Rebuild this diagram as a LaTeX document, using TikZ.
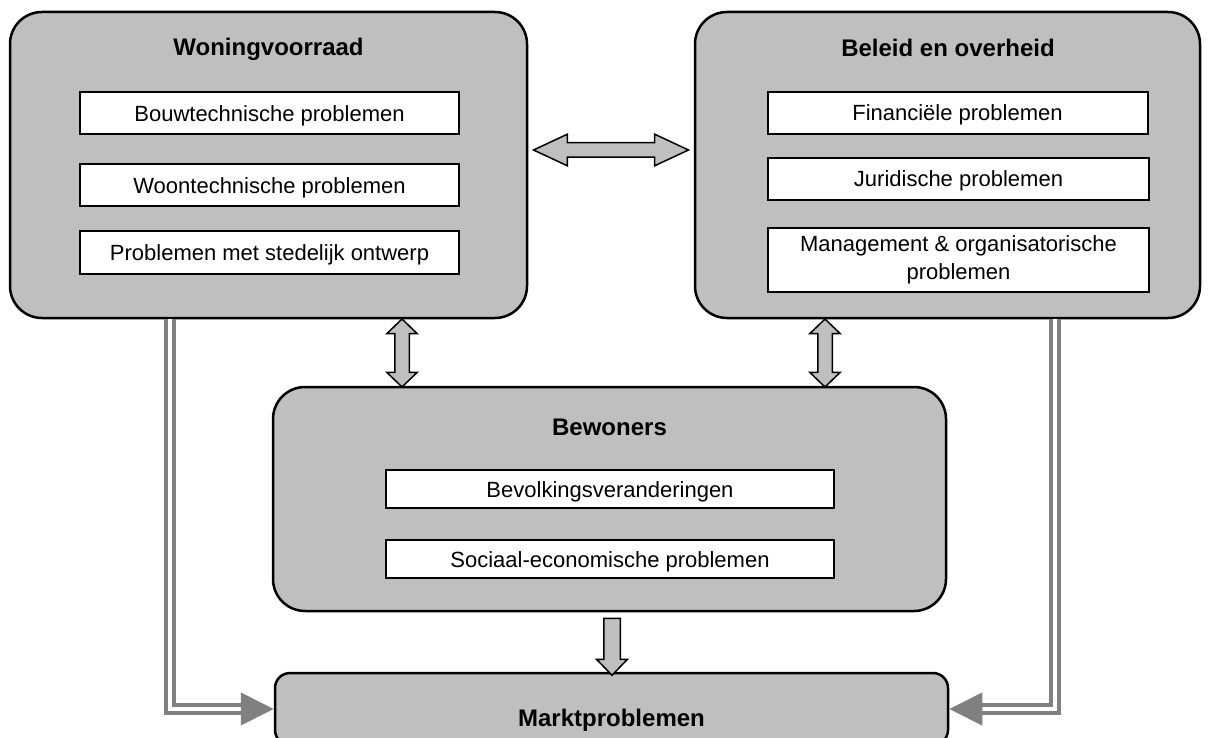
\documentclass[tikz,border=0pt]{standalone}
\usepackage{fontspec}
\setmainfont{Liberation Sans}
\usetikzlibrary{arrows.meta,positioning,calc,shapes.arrows}

\begin{document}
\begin{tikzpicture}[
  x=1pt,y=-1pt,
  panel/.style={draw=black, line width=2.5pt, rounded corners=32pt, fill=gray!50},
  item/.style={draw=black, line width=2pt, fill=white, inner sep=0pt, align=center, font=\fontsize{22}{28}\selectfont},
  line1/.style={item, text height=16pt, text depth=0pt},
  lab/.style={font=\fontsize{24}{28}\selectfont\bfseries},
  fat/.style={draw=black, line width=1.5pt, fill=gray!50, inner sep=6.5pt},
  dline/.style={draw=gray, line width=4pt, double=white, double distance=4pt},
  dhead/.style={draw=gray, line width=4pt, -{Triangle[length=33pt,width=32pt]}}
]
  \useasboundingbox (0,0) rectangle (1210,738);

  \node[panel, minimum width=517pt, minimum height=306pt] (wv) at (268.5,165) {};
  \node[panel, minimum width=505pt, minimum height=306pt] (bo) at (947.5,165) {};
  \node[panel, minimum width=673pt, minimum height=224pt] (bw) at (609.5,499) {};
  \node[panel, rounded corners=15pt, minimum width=673pt, minimum height=72pt] (mp) at (611.5,709) {};
  \node[lab] at (268.5,49) {Woningvoorraad};
  \node[lab] at (948,48) {Beleid en overheid};
  \node[lab] at (609.5,427) {Bewoners};
  \node[lab] at (611.5,720) {Marktproblemen};

  \node[line1, minimum width=379pt, minimum height=42pt] (w1) at (269.5,113.5) {Bouwtechnische problemen};
  \node[line1, minimum width=379pt, minimum height=42pt] (w2) at (269.5,185.5) {Woontechnische problemen};
  \node[line1, minimum width=379pt, minimum height=42pt] (w3) at (269.5,252.5) {Problemen met stedelijk ontwerp};

  \node[line1, minimum width=380pt, minimum height=42pt] (b1) at (957.5,113) {Financiële problemen};
  \node[line1, minimum width=381pt, minimum height=42pt] (b2) at (958.5,179) {Juridische problemen};
  \node[item, minimum width=381pt, minimum height=63pt] (b3) at (958.5,260) {Management \& organisatorische\\problemen};

  \node[line1, minimum width=448pt, minimum height=38pt] (r1) at (610,489) {Bevolkingsveranderingen};
  \node[line1, minimum width=448pt, minimum height=38pt] (r2) at (610,559) {Sociaal-economische problemen};

  % fat arrows between the blocks
  \node[fat, double arrow, minimum height=155pt, double arrow head extend=8.5pt, double arrow tip angle=50] (ha) at ($(wv.east)!.5!(bo.west)+(0,-15)$) {};
  \node[fat, double arrow, shape border rotate=90, minimum height=68pt, double arrow head extend=8pt, double arrow tip angle=92] (va1) at (402,353) {};
  \node[fat, double arrow, shape border rotate=90, minimum height=68pt, double arrow head extend=8pt, double arrow tip angle=92] (va2) at (825,353) {};
  \node[fat, inner sep=7.5pt, single arrow, shape border rotate=270, minimum height=57pt, single arrow head extend=7pt, single arrow tip angle=88] (da) at (612,642.5) {};

  % side links into Marktproblemen
  \coordinate (ls) at ($(wv.south west)+(161,0)$);
  \coordinate (rs) at ($(bo.south east)+(-146.5,0)$);
  \coordinate (lb) at ($(mp.west)+(-33,0)$);
  \coordinate (rb) at ($(mp.east)+(33,0)$);
  \draw[dline] (ls) |- (lb);
  \draw[dline] (rs) |- (rb);
  \draw[dhead] (lb) -- (mp.west);
  \draw[dhead] (rb) -- (mp.east);
\end{tikzpicture}
\end{document}
